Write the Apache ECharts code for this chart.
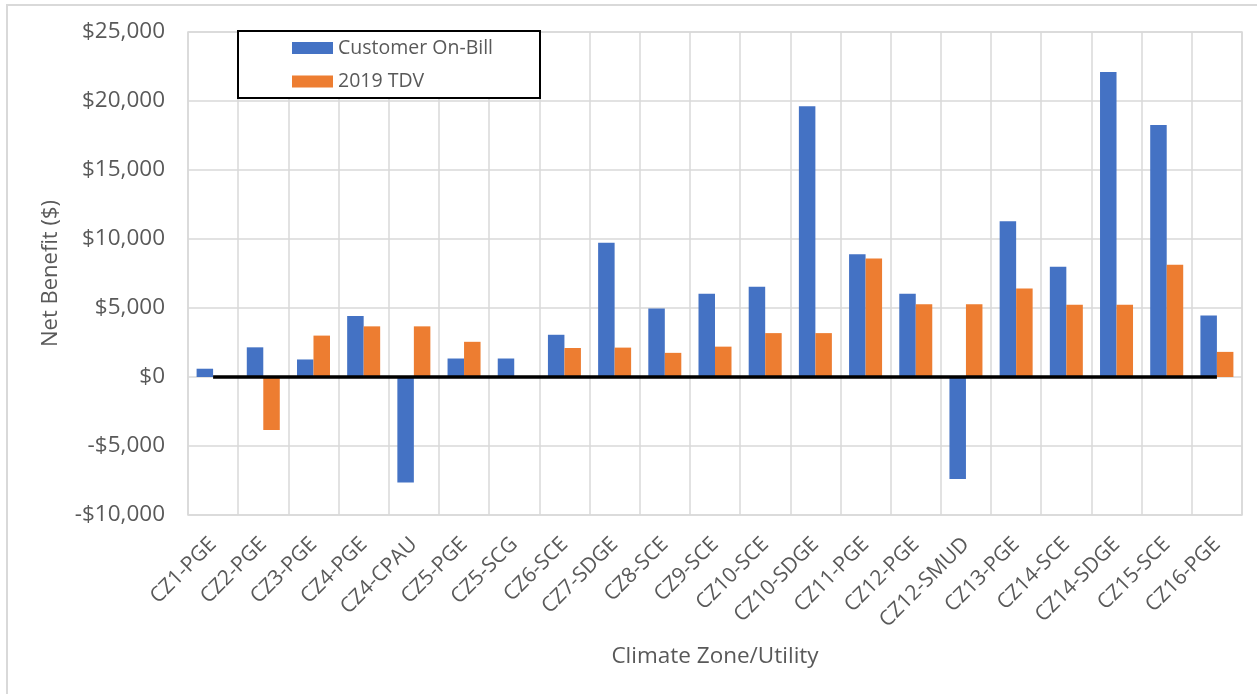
<!DOCTYPE html>
<html>
<head>
<meta charset="utf-8">
<style>
    html, body { margin: 0; padding: 0; background: #ffffff; }
    #chart { width: 1257px; height: 694px; }
</style>
<script src="https://cdn.jsdelivr.net/npm/echarts@6/dist/echarts.min.js"></script>
</head>
<body>
<div id="chart"></div>
<script>
    // categories and values
    var categories = ['CZ1-PGE', 'CZ2-PGE', 'CZ3-PGE', 'CZ4-PGE', 'CZ4-CPAU', 'CZ5-PGE', 'CZ5-SCG', 'CZ6-SCE', 'CZ7-SDGE', 'CZ8-SCE',
        'CZ9-SCE', 'CZ10-SCE', 'CZ10-SDGE', 'CZ11-PGE', 'CZ12-PGE', 'CZ12-SMUD', 'CZ13-PGE', 'CZ14-SCE', 'CZ14-SDGE', 'CZ15-SCE', 'CZ16-PGE'];
    var onBill = [600, 2150, 1270, 4420, -7650, 1340, 1340, 3060, 9720, 4970,
        6030, 6540, 19620, 8890, 6030, -7390, 11290, 7990, 22110, 18260, 4450];
    var tdv = [0, -3840, 3000, 3670, 3670, 2550, 0, 2100, 2130, 1750,
        2200, 3180, 3180, 8580, 5280, 5280, 6420, 5230, 5230, 8140, 1820];
    var zeroLine = [0, 0, 0, 0, 0, 0, 0, 0, 0, 0, 0, 0, 0, 0, 0, 0, 0, 0, 0, 0, 0];
    var yTicks = { min: -10000, max: 25000, interval: 5000 };

    var textColor = '#595959';
    var gridColor = '#d9d9d9';
    var font = 'Open Sans';

    function money(v) {
        var s = Math.abs(v).toString().replace(/\B(?=(\d{3})+(?!\d))/g, ',');
        return (v < 0 ? '-$' : '$') + s;
    }

    var chart = echarts.init(document.getElementById('chart'));
    var option = {
        animation: false,
        backgroundColor: '#ffffff',
        textStyle: { fontFamily: font },
        grid: {
            left: 188, top: 32, right: 15, bottom: 179,
            show: true, borderColor: gridColor, borderWidth: 1.5
        },
        graphic: [
            {
                type: 'rect', z: -10, silent: true,
                shape: { x: 7, y: 5, width: 1300, height: 800 },
                style: { fill: null, stroke: gridColor, lineWidth: 2 }
            },
            {
                type: 'rect', z: 100, silent: true,
                shape: { x: 238, y: 31, width: 302, height: 67 },
                style: { fill: '#ffffff', stroke: '#000000', lineWidth: 2 }
            }
        ],
        legend: {
            data: ['Customer On-Bill', '2019 TDV'],
            orient: 'vertical',
            left: 292, top: 38,
            padding: 0,
            z: 200,
            itemWidth: 41, itemHeight: 12, itemGap: 13.5,
            icon: 'rect',
            textStyle: { color: textColor, fontSize: 19.5, fontFamily: font, lineHeight: 20 }
        },
        xAxis: {
            type: 'category',
            data: categories,
            name: 'Climate Zone/Utility',
            nameLocation: 'middle',
            nameGap: 130,
            nameTextStyle: { color: textColor, fontSize: 22.5, fontFamily: font },
            axisLine: { show: false, onZero: false },
            axisTick: { show: false },
            axisLabel: { interval: 0, rotate: 45, color: textColor, fontSize: 21, fontFamily: font, margin: 26 },
            splitLine: { show: true, lineStyle: { color: gridColor, width: 1.5 } }
        },
        yAxis: {
            type: 'value',
            min: yTicks.min, max: yTicks.max, interval: yTicks.interval,
            name: 'Net Benefit ($)',
            nameLocation: 'middle',
            nameGap: 126,
            nameTextStyle: { color: textColor, fontSize: 22, fontFamily: font },
            axisLine: { show: false },
            axisTick: { show: false },
            axisLabel: { color: textColor, fontSize: 22.5, fontFamily: font, margin: 23, formatter: money },
            splitLine: { show: true, lineStyle: { color: gridColor, width: 1.5 } }
        },
        series: [
            {
                name: 'Customer On-Bill', type: 'bar', data: onBill,
                barWidth: 16.5, barGap: '0%',
                itemStyle: { color: '#4472C4' }
            },
            {
                name: '2019 TDV', type: 'bar', data: tdv,
                barWidth: 16.5, barGap: '0%',
                itemStyle: { color: '#ED7D31' }
            },
            {
                name: 'zero', type: 'line', data: zeroLine, z: 5,
                symbol: 'none', silent: true,
                lineStyle: { color: '#000000', width: 3.5 },
                itemStyle: { color: '#000000' }
            }
        ]
    };
    chart.setOption(option);
</script>
</body>
</html>
